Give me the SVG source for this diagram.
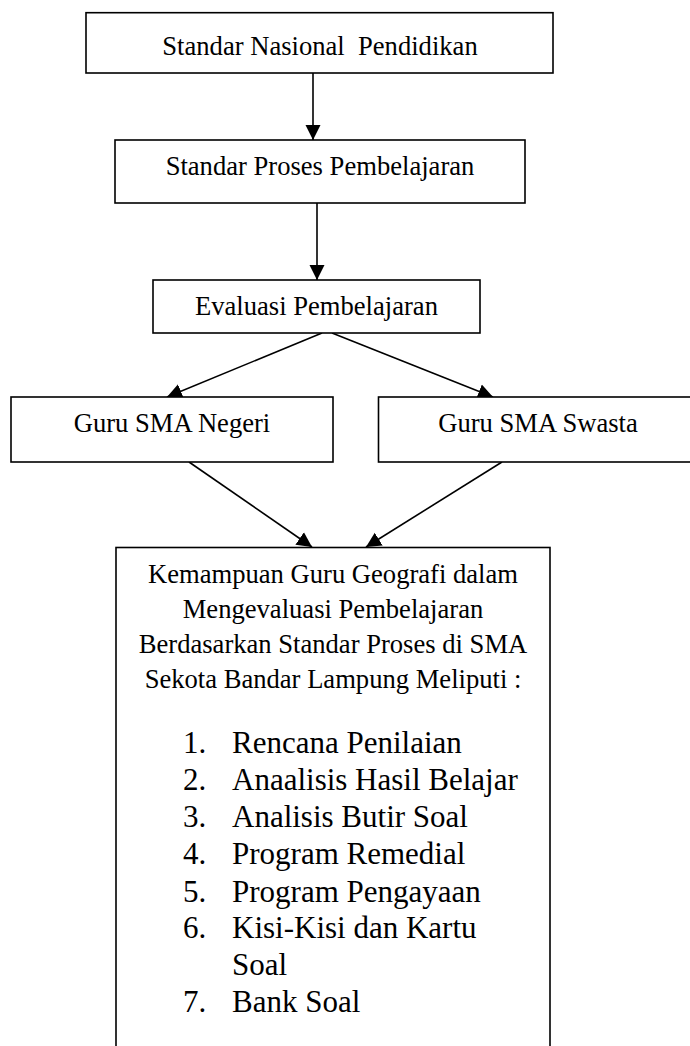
<svg xmlns="http://www.w3.org/2000/svg" width="690" height="1046" viewBox="0 0 690 1046">
<style>
.box{fill:#fff;stroke:#000;stroke-width:1.6}
.t{font-family:"Liberation Serif","Times New Roman",serif;font-size:26.6px;fill:#000;text-anchor:middle}
.l{font-family:"Liberation Serif","Times New Roman",serif;font-size:31px;fill:#000}
.c{stroke:#000;stroke-width:1.6;fill:none;marker-end:url(#ah)}
</style>
<defs>
<marker id="ah" markerUnits="userSpaceOnUse" markerWidth="16" markerHeight="16" viewBox="0 0 16 16" refX="15" refY="8" orient="auto">
<path d="M0,0.5 L15,8 L0,15.5 Z" fill="#000"/>
</marker>
</defs>
<rect width="690" height="1046" fill="#fff"/>
<g id="connectors">
<line class="c" x1="313" y1="73" x2="313" y2="140"/>
<line class="c" x1="317" y1="203" x2="317" y2="280"/>
<line class="c" x1="322" y1="333" x2="167" y2="397"/>
<line class="c" x1="332" y1="333" x2="493" y2="397"/>
<line class="c" x1="189" y1="462" x2="312" y2="547"/>
<line class="c" x1="502" y1="462" x2="366" y2="547"/>
</g>
<g id="n1">
<rect class="box" x="86" y="12.7" width="467" height="60.3"/>
<text class="t" x="320" y="55" xml:space="preserve">Standar Nasional  Pendidikan</text>
</g>
<g id="n2">
<rect class="box" x="115" y="140" width="410" height="63"/>
<text class="t" x="320" y="175">Standar Proses Pembelajaran</text>
</g>
<g id="n3">
<rect class="box" x="153" y="280" width="327" height="53"/>
<text class="t" x="316.5" y="315">Evaluasi Pembelajaran</text>
</g>
<g id="n4">
<rect class="box" x="11" y="397" width="322" height="65"/>
<text class="t" x="172" y="432">Guru SMA Negeri</text>
</g>
<g id="n5">
<rect class="box" x="378.5" y="397" width="320" height="65"/>
<text class="t" x="538" y="432">Guru SMA Swasta</text>
</g>
<g id="n6">
<rect class="box" x="116" y="547.5" width="434" height="510"/>
<text class="t" x="333" y="583">Kemampuan Guru Geografi dalam</text>
<text class="t" x="333" y="618">Mengevaluasi Pembelajaran</text>
<text class="t" x="333" y="653">Berdasarkan Standar Proses di SMA</text>
<text class="t" x="333" y="688">Sekota Bandar Lampung Meliputi :</text>
<text class="l" x="183" y="753">1.</text><text class="l" x="232" y="753">Rencana Penilaian</text>
<text class="l" x="183" y="790">2.</text><text class="l" x="232" y="790">Anaalisis Hasil Belajar</text>
<text class="l" x="183" y="827">3.</text><text class="l" x="232" y="827">Analisis Butir Soal</text>
<text class="l" x="183" y="864">4.</text><text class="l" x="232" y="864">Program Remedial</text>
<text class="l" x="183" y="902">5.</text><text class="l" x="232" y="902">Program Pengayaan</text>
<text class="l" x="183" y="938">6.</text><text class="l" x="232" y="938">Kisi-Kisi dan Kartu</text>
<text class="l" x="232" y="975">Soal</text>
<text class="l" x="183" y="1012">7.</text><text class="l" x="232" y="1012">Bank Soal</text>
</g>
</svg>
